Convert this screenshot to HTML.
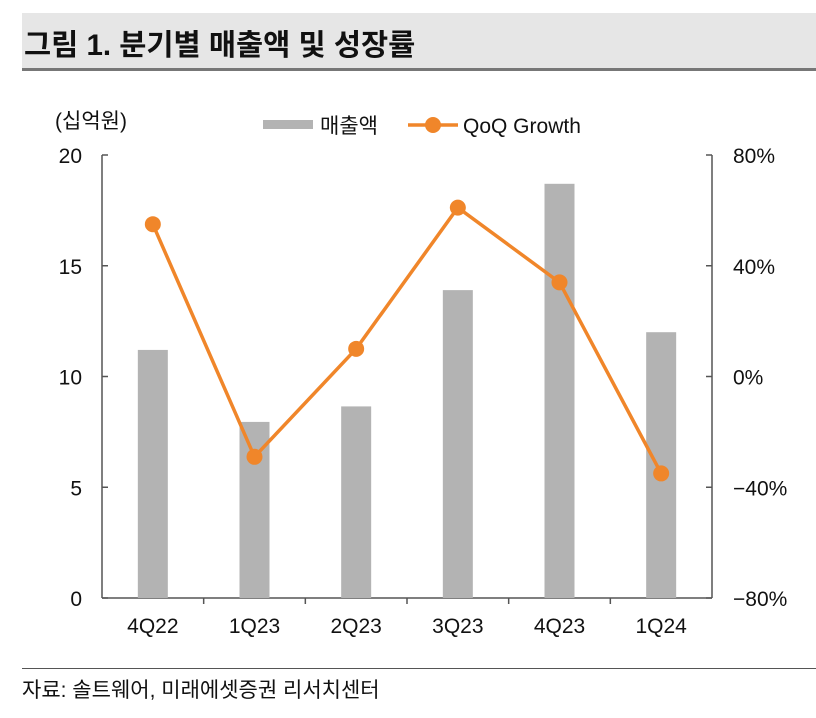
<!DOCTYPE html>
<html><head><meta charset="utf-8">
<style>
body{margin:0;background:#fff;width:816px;height:718px;overflow:hidden;font-family:"Liberation Sans","Noto Sans CJK KR",sans-serif;}
#hdr{position:absolute;left:22px;top:13px;width:794px;height:55px;background:#e6e6e6;border-bottom:3px solid #777;}
#hdr span{position:absolute;left:2px;top:9px;font-size:29.5px;font-weight:bold;color:#111;}
#foot-line{position:absolute;left:22px;top:668px;width:794px;height:1px;background:#555;}
#src{position:absolute;left:22px;top:674px;font-size:21px;color:#111;}
svg{position:absolute;left:0;top:0;}
svg text{font-family:"Liberation Sans","Noto Sans CJK KR",sans-serif;fill:#111;}
</style></head><body>
<div id="hdr"><span>그림 1. 분기별 매출액 및 성장률</span></div>
<svg id="chart" width="816" height="718"></svg>
<div id="foot-line"></div>
<div id="src">자료: 솔트웨어, 미래에셋증권 리서치센터</div>
<script>
const categories=["4Q22","1Q23","2Q23","3Q23","4Q23","1Q24"];
const revenue=[11.2,7.95,8.65,13.9,18.7,12.0];
const growth=[55,-29,10,61,34,-35];
const leftTicks=[0,5,10,15,20];
const rightTicks=[-80,-40,0,40,80];
const rightTickLabels=["−80%","−40%","0%","40%","80%"];

const NS="http://www.w3.org/2000/svg";
const svg=document.getElementById('chart');
const X0=102,X1=712,Y0=598,Y1=155;
const band=(X1-X0)/categories.length;
const xc=i=>X0+band*(i+0.5);
const yL=v=>Y0-(v-0)/(20-0)*(Y0-Y1);
const yR=v=>Y0-(v+80)/160*(Y0-Y1);
function mk(t,a,txt){const e=document.createElementNS(NS,t);for(const k in a)e.setAttribute(k,a[k]);if(txt!=null)e.textContent=txt;svg.appendChild(e);return e;}

let e;
e=mk('line',{x1:X0,y1:Y1,x2:X0,y2:Y0,stroke:'#555','stroke-width':1.5});


e=mk('line',{x1:X1,y1:Y1,x2:X1,y2:Y0,stroke:'#555','stroke-width':1.5});


e=mk('line',{x1:X0,y1:Y0,x2:X1,y2:Y0,stroke:'#555','stroke-width':1.5});



leftTicks.forEach(v=>{
  mk('line',{x1:X0,y1:yL(v),x2:X0+6,y2:yL(v),stroke:'#555','stroke-width':1.5});
  e=mk('text',{x:82,y:yL(v)+8,'text-anchor':'end','font-size':21},String(v));
  
  
});
rightTicks.forEach((v,i)=>{
  mk('line',{x1:X1-6,y1:yR(v),x2:X1,y2:yR(v),stroke:'#555','stroke-width':1.5});
  e=mk('text',{x:733,y:yR(v)+8,'font-size':21},rightTickLabels[i]);
  
  
});
for(let i=1;i<categories.length;i++){
  mk('line',{x1:X0+band*i,y1:Y0,x2:X0+band*i,y2:Y0+6,stroke:'#555','stroke-width':1.5});
}
categories.forEach((c,i)=>{
  e=mk('text',{x:xc(i),y:633,'text-anchor':'middle','font-size':21},c);
  
  
});
e=mk('text',{x:55,y:128,'font-size':21},'(십억원)');



revenue.forEach((v,i)=>{
  e=mk('rect',{x:xc(i)-15,y:yL(v),width:30,height:Y0-yL(v),fill:'#b3b3b3'});
  
  
});
e=mk('polyline',{points:growth.map((v,i)=>xc(i)+','+yR(v)).join(' '),fill:'none',stroke:'#f0862a','stroke-width':3.5});


growth.forEach((v,i)=>{
  e=mk('circle',{cx:xc(i),cy:yR(v),r:8,fill:'#f0862a'});
  
  
});

e=mk('rect',{x:263,y:120,width:50,height:9,fill:'#b3b3b3'});


e=mk('text',{x:320,y:133,'font-size':21},'매출액');


mk('line',{x1:408,y1:125,x2:458,y2:125,stroke:'#f0862a','stroke-width':3.5});
e=mk('circle',{cx:433,cy:125,r:8,fill:'#f0862a'});


e=mk('text',{x:463,y:133,'font-size':21},'QoQ Growth');


</script>
</body></html>
